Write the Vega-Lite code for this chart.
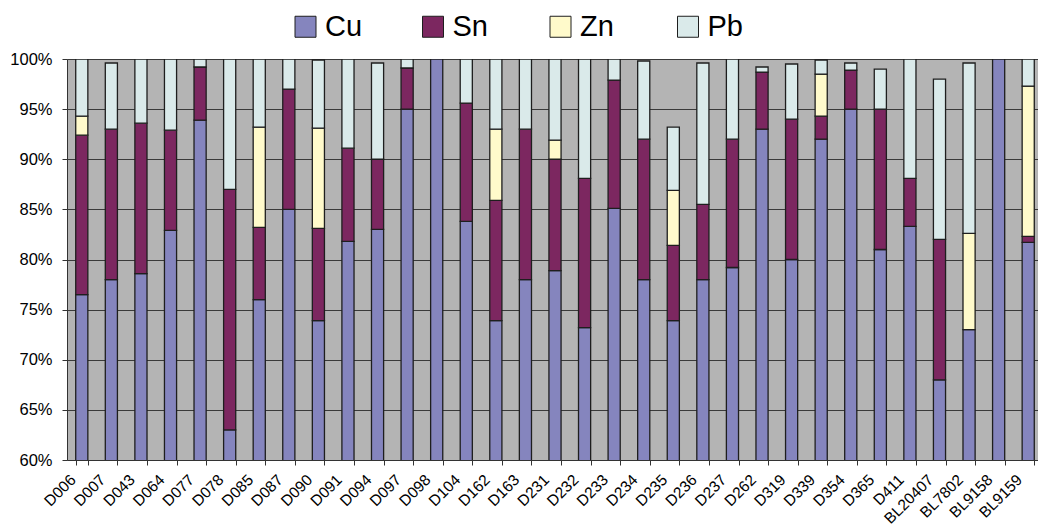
{
  "$schema": "https://vega.github.io/schema/vega-lite/v6.json",
  "autosize": {"type": "none"},
  "width": 976,
  "height": 401,
  "padding": {"left": 67, "top": 59, "right": 0, "bottom": 66},
  "background": "white",
  "config": {
    "view": {"fill": "#b4b4b4", "stroke": null},
    "font": "Liberation Sans"
  },
  "datasets": {
    "metalOrder": [
      {"metal": "Cu", "stackRank": 1},
      {"metal": "Sn", "stackRank": 2},
      {"metal": "Zn", "stackRank": 3},
      {"metal": "Pb", "stackRank": 4}
    ]
  },
  "data": {
    "values": [
      {"sample": "D006", "metal": "Cu", "pct": 76.5}, {"sample": "D006", "metal": "Sn", "pct": 15.9}, {"sample": "D006", "metal": "Zn", "pct": 1.9}, {"sample": "D006", "metal": "Pb", "pct": 5.7},
      {"sample": "D007", "metal": "Cu", "pct": 78.0}, {"sample": "D007", "metal": "Sn", "pct": 15.0}, {"sample": "D007", "metal": "Pb", "pct": 6.6},
      {"sample": "D043", "metal": "Cu", "pct": 78.6}, {"sample": "D043", "metal": "Sn", "pct": 15.0}, {"sample": "D043", "metal": "Pb", "pct": 6.4},
      {"sample": "D064", "metal": "Cu", "pct": 82.9}, {"sample": "D064", "metal": "Sn", "pct": 10.0}, {"sample": "D064", "metal": "Pb", "pct": 7.1},
      {"sample": "D077", "metal": "Cu", "pct": 93.9}, {"sample": "D077", "metal": "Sn", "pct": 5.3}, {"sample": "D077", "metal": "Pb", "pct": 0.8},
      {"sample": "D078", "metal": "Cu", "pct": 63.0}, {"sample": "D078", "metal": "Sn", "pct": 24.0}, {"sample": "D078", "metal": "Pb", "pct": 13.0},
      {"sample": "D085", "metal": "Cu", "pct": 76.0}, {"sample": "D085", "metal": "Sn", "pct": 7.2}, {"sample": "D085", "metal": "Zn", "pct": 10.0}, {"sample": "D085", "metal": "Pb", "pct": 6.8},
      {"sample": "D087", "metal": "Cu", "pct": 85.0}, {"sample": "D087", "metal": "Sn", "pct": 12.0}, {"sample": "D087", "metal": "Pb", "pct": 3.0},
      {"sample": "D090", "metal": "Cu", "pct": 73.9}, {"sample": "D090", "metal": "Sn", "pct": 9.2}, {"sample": "D090", "metal": "Zn", "pct": 10.0}, {"sample": "D090", "metal": "Pb", "pct": 6.8},
      {"sample": "D091", "metal": "Cu", "pct": 81.8}, {"sample": "D091", "metal": "Sn", "pct": 9.3}, {"sample": "D091", "metal": "Pb", "pct": 8.9},
      {"sample": "D094", "metal": "Cu", "pct": 83.0}, {"sample": "D094", "metal": "Sn", "pct": 7.0}, {"sample": "D094", "metal": "Pb", "pct": 9.6},
      {"sample": "D097", "metal": "Cu", "pct": 95.0}, {"sample": "D097", "metal": "Sn", "pct": 4.1}, {"sample": "D097", "metal": "Pb", "pct": 0.9},
      {"sample": "D098", "metal": "Cu", "pct": 100.0},
      {"sample": "D104", "metal": "Cu", "pct": 83.8}, {"sample": "D104", "metal": "Sn", "pct": 11.8}, {"sample": "D104", "metal": "Pb", "pct": 4.4},
      {"sample": "D162", "metal": "Cu", "pct": 73.9}, {"sample": "D162", "metal": "Sn", "pct": 12.0}, {"sample": "D162", "metal": "Zn", "pct": 7.1}, {"sample": "D162", "metal": "Pb", "pct": 7.0},
      {"sample": "D163", "metal": "Cu", "pct": 78.0}, {"sample": "D163", "metal": "Sn", "pct": 15.0}, {"sample": "D163", "metal": "Pb", "pct": 7.0},
      {"sample": "D231", "metal": "Cu", "pct": 78.9}, {"sample": "D231", "metal": "Sn", "pct": 11.1}, {"sample": "D231", "metal": "Zn", "pct": 1.9}, {"sample": "D231", "metal": "Pb", "pct": 8.1},
      {"sample": "D232", "metal": "Cu", "pct": 73.2}, {"sample": "D232", "metal": "Sn", "pct": 14.9}, {"sample": "D232", "metal": "Pb", "pct": 11.9},
      {"sample": "D233", "metal": "Cu", "pct": 85.1}, {"sample": "D233", "metal": "Sn", "pct": 12.8}, {"sample": "D233", "metal": "Pb", "pct": 2.1},
      {"sample": "D234", "metal": "Cu", "pct": 78.0}, {"sample": "D234", "metal": "Sn", "pct": 14.0}, {"sample": "D234", "metal": "Pb", "pct": 7.8},
      {"sample": "D235", "metal": "Cu", "pct": 73.9}, {"sample": "D235", "metal": "Sn", "pct": 7.5}, {"sample": "D235", "metal": "Zn", "pct": 5.5}, {"sample": "D235", "metal": "Pb", "pct": 6.3},
      {"sample": "D236", "metal": "Cu", "pct": 78.0}, {"sample": "D236", "metal": "Sn", "pct": 7.5}, {"sample": "D236", "metal": "Pb", "pct": 14.1},
      {"sample": "D237", "metal": "Cu", "pct": 79.2}, {"sample": "D237", "metal": "Sn", "pct": 12.8}, {"sample": "D237", "metal": "Pb", "pct": 8.0},
      {"sample": "D262", "metal": "Cu", "pct": 93.0}, {"sample": "D262", "metal": "Sn", "pct": 5.7}, {"sample": "D262", "metal": "Pb", "pct": 0.5},
      {"sample": "D319", "metal": "Cu", "pct": 80.0}, {"sample": "D319", "metal": "Sn", "pct": 14.0}, {"sample": "D319", "metal": "Pb", "pct": 5.5},
      {"sample": "D339", "metal": "Cu", "pct": 92.0}, {"sample": "D339", "metal": "Sn", "pct": 2.3}, {"sample": "D339", "metal": "Zn", "pct": 4.2}, {"sample": "D339", "metal": "Pb", "pct": 1.4},
      {"sample": "D354", "metal": "Cu", "pct": 95.0}, {"sample": "D354", "metal": "Sn", "pct": 3.9}, {"sample": "D354", "metal": "Pb", "pct": 0.7},
      {"sample": "D365", "metal": "Cu", "pct": 81.0}, {"sample": "D365", "metal": "Sn", "pct": 14.0}, {"sample": "D365", "metal": "Pb", "pct": 4.0},
      {"sample": "D411", "metal": "Cu", "pct": 83.3}, {"sample": "D411", "metal": "Sn", "pct": 4.8}, {"sample": "D411", "metal": "Pb", "pct": 11.9},
      {"sample": "BL20407", "metal": "Cu", "pct": 68.0}, {"sample": "BL20407", "metal": "Sn", "pct": 14.0}, {"sample": "BL20407", "metal": "Pb", "pct": 16.0},
      {"sample": "BL7802", "metal": "Cu", "pct": 73.0}, {"sample": "BL7802", "metal": "Zn", "pct": 9.6}, {"sample": "BL7802", "metal": "Pb", "pct": 17.0},
      {"sample": "BL9158", "metal": "Cu", "pct": 100.0},
      {"sample": "BL9159", "metal": "Cu", "pct": 81.7}, {"sample": "BL9159", "metal": "Sn", "pct": 0.6}, {"sample": "BL9159", "metal": "Zn", "pct": 15.0}, {"sample": "BL9159", "metal": "Pb", "pct": 2.7}
    ]
  },
  "transform": [
    {"lookup": "metal", "from": {"data": {"name": "metalOrder"}, "key": "metal", "fields": ["stackRank"]}}
  ],
  "mark": {"type": "bar", "clip": true, "stroke": "#1e1e1e", "strokeWidth": 1.3},
  "encoding": {
    "x": {
      "field": "sample",
      "type": "nominal",
      "sort": null,
      "scale": {"paddingInner": 0.59, "paddingOuter": 0.295},
      "axis": {
        "title": null,
        "labelAngle": -45,
        "labelAlign": "right",
        "labelBaseline": "top",
        "labelOffset": -14,
        "labelPadding": 7,
        "labelFontSize": 15.5,
        "labelColor": "#000000",
        "labelFont": "Liberation Sans",
        "tickBand": "extent",
        "tickSize": 5,
        "tickColor": "#333333",
        "domainColor": "#333333",
        "domainWidth": 1,
        "grid": false,
        "labelOverlap": false,
        "labelBound": false
      }
    },
    "y": {
      "field": "pct",
      "type": "quantitative",
      "stack": "zero",
      "scale": {"domain": [60, 100], "nice": false, "zero": false},
      "axis": {
        "title": null,
        "values": [60, 65, 70, 75, 80, 85, 90, 95, 100],
        "labelExpr": "datum.value + '%'",
        "labelFontSize": 16.5,
        "labelColor": "#000000",
        "labelFont": "Liberation Sans",
        "labelPadding": 10,
        "tickSize": 5,
        "tickColor": "#333333",
        "domainColor": "#333333",
        "grid": true,
        "gridColor": "#3a3a3a",
        "gridWidth": 1
      }
    },
    "color": {
      "field": "metal",
      "type": "nominal",
      "scale": {"domain": ["Cu", "Sn", "Zn", "Pb"], "range": ["#8585be", "#7c2760", "#fffacb", "#daeaea"]},
      "legend": {
        "title": null,
        "orient": "none",
        "direction": "horizontal",
        "columns": 4,
        "legendX": 224,
        "legendY": -47,
        "padding": 0,
        "gridAlign": "all",
        "columnPadding": 55.5,
        "symbolType": "square",
        "symbolSize": 441,
        "symbolStrokeColor": "#1e1e1e",
        "symbolStrokeWidth": 1,
        "labelFontSize": 29,
        "labelFont": "Liberation Sans",
        "labelColor": "#000000",
        "labelOffset": 5,
        "labelLimit": 200
      }
    },
    "order": {"field": "stackRank", "type": "quantitative", "sort": "ascending"}
  }
}
